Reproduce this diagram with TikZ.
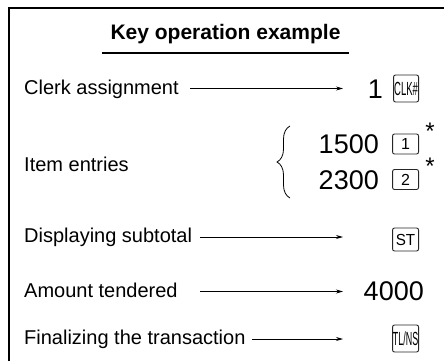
\documentclass[tikz,border=0pt]{standalone}
\usepackage{fontspec}
\setmainfont{Liberation Sans}
\usetikzlibrary{decorations.pathreplacing,arrows.meta}
\begin{document}
\begin{tikzpicture}[x=1pt,y=-1pt,
  lbl/.style={anchor=base west,inner sep=0pt,font=\fontsize{20}{24}\selectfont},
  num/.style={anchor=base east,inner sep=0pt,font=\fontsize{27}{30}\selectfont},
  keybox/.style={draw=black!85,rounded corners=2pt,line width=0.9pt,inner sep=0pt,anchor=east,minimum width=26pt},
  conn/.style={-{Stealth[length=7pt,width=4pt]},line width=0.8pt},
  ast/.style={anchor=north,inner sep=0pt,font=\fontsize{24}{26}\selectfont},
]
\useasboundingbox (0,0) rectangle (444,361);
\draw[line width=1.5pt] (444,8) -- (9,8) -- (9,361);

\node[anchor=base,inner sep=0pt,font=\bfseries\fontsize{21}{25}\selectfont] (title) at (225.5,40) {Key operation example};
\draw[line width=1.2pt] (102,53) -- (349,53);

\node[lbl] (clerk) at (24,94) {Clerk assignment};
\node[lbl] (item) at (24,171) {Item entries};
\node[lbl] (disp) at (24,242.5) {Displaying subtotal};
\node[lbl] (amt) at (24,297) {Amount tendered};
\node[lbl] (fin) at (24,344.5) {Finalizing the transaction};

\node[num] (n1) at (383,98) {1};
\node[num] (n1500) at (379,153) {1500};
\node[num] (n2300) at (379,189) {2300};
\node[num] (n4000) at (424,300) {4000};

\node[keybox,minimum width=25pt,minimum height=27pt] (kclk) at (419,88.5) {\fontsize{19}{19}\selectfont\scalebox{0.5}[1]{CLK\#}};
\node[keybox,minimum height=20pt] (k1) at (419,144) {\fontsize{16}{16}\selectfont 1};
\node[keybox,minimum height=20pt] (k2) at (419,179.5) {\fontsize{16}{16}\selectfont 2};
\node[keybox,minimum height=23pt] (kst) at (419,239.5) {\fontsize{16}{16}\selectfont\scalebox{0.95}[1]{ST}};
\node[keybox,minimum height=27pt] (ktl) at (419,338.5) {\fontsize{19}{19}\selectfont\scalebox{0.47}[1]{TL/NS}};

\node[ast] (a1) at (430,123) {*};
\node[ast] (a2) at (430,158) {*};

\draw[decorate,decoration={brace,amplitude=13pt},line width=0.8pt] (290,198) -- (290,126);

\coordinate (s1) at (190,88.5);  \coordinate (e1) at (343,88.5);
\coordinate (s2) at (200,237);   \coordinate (e2) at (343,237);
\coordinate (s3) at (200,291.5); \coordinate (e3) at (343,291.5);
\coordinate (s4) at (252,339);   \coordinate (e4) at (343,339);
\draw[conn] (s1) -- (e1);
\draw[conn] (s2) -- (e2);
\draw[conn] (s3) -- (e3);
\draw[conn] (s4) -- (e4);
\end{tikzpicture}
\end{document}
